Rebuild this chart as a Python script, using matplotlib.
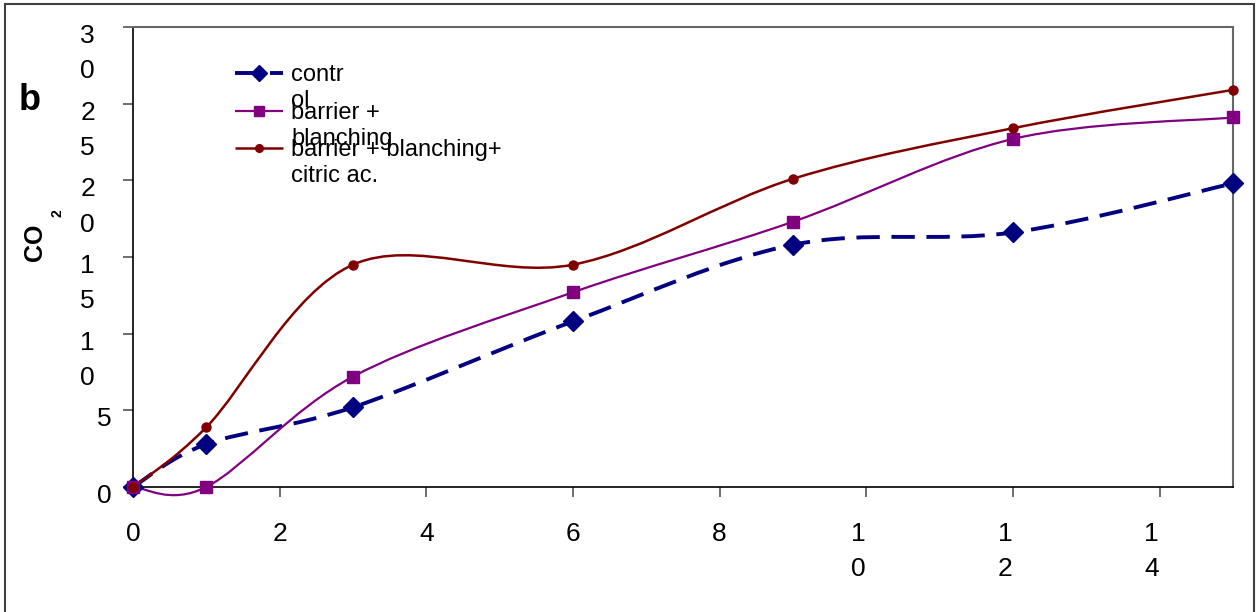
import numpy as np
import matplotlib
matplotlib.use("Agg")
import matplotlib.pyplot as plt
from matplotlib.path import Path
from matplotlib.patches import PathPatch, Rectangle
import matplotlib.transforms as mtransforms

plt.rcParams['font.family'] = ['Liberation Sans', 'DejaVu Sans']

# ---- data ----
days = [0, 1, 3, 6, 9, 12, 15]
control = [0.0, 2.8, 5.2, 10.8, 15.8, 16.6, 19.8]
barrier_blanching = [0.0, 0.0, 7.2, 12.7, 17.3, 22.7, 24.1]
barrier_blanching_citric = [0.0, 3.9, 14.5, 14.5, 20.1, 23.4, 25.9]
series_labels = ["contr\nol", "barrier +\nblanching", "barrier + blanching+\ncitric ac."]
x_ticks = [0, 2, 4, 6, 8, 10, 12, 14]
x_tick_labels = ["0", "2", "4", "6", "8", "1\n0", "1\n2", "1\n4"]
y_ticks = [0, 5, 10, 15, 20, 25, 30]
y_tick_labels = ["0", "5", "1\n0", "1\n5", "2\n0", "2\n5", "3\n0"]

W, H = 1259, 612
fig = plt.figure(figsize=(W / 100, H / 100), dpi=100)
L, R, T, B = 133, 1233, 27, 487
ax = fig.add_axes([L / W, (H - B) / H, (R - L) / W, (B - T) / H])
ax.set_xlim(0, 15)
ax.set_ylim(0, 30)


def smooth_path(x, y):
    pts = np.column_stack([x, y]).astype(float)
    n = len(pts)
    verts = [pts[0]]
    codes = [Path.MOVETO]
    for i in range(n - 1):
        p0 = pts[i - 1] if i > 0 else pts[i]
        p1 = pts[i]
        p2 = pts[i + 1]
        p3 = pts[i + 2] if i + 2 < n else pts[i + 1]
        c1 = p1 + (p2 - p0) / 6.0
        c2 = p2 - (p3 - p1) / 6.0
        verts += [c1, c2, p2]
        codes += [Path.CURVE4] * 3
    return Path(verts, codes)


styles = [
    dict(color='#000080', lw=2.8, ls=(0, (6, 3)), marker='D', ms=10),
    dict(color='#800080', lw=1.6, ls='-', marker='s', ms=8.5),
    dict(color='#800000', lw=1.8, ls='-', marker='o', ms=6.5),
]
data = [control, barrier_blanching, barrier_blanching_citric]

for ys, st in zip(data, styles):
    patch = PathPatch(smooth_path(days, ys), fill=False, edgecolor=st['color'],
                      lw=st['lw'], linestyle=st['ls'], transform=ax.transData,
                      clip_on=False, zorder=3, capstyle='butt')
    ax.add_patch(patch)
    ax.plot(days, ys, linestyle='none', marker=st['marker'], ms=st['ms'],
            color=st['color'], mec=st['color'], clip_on=False, zorder=4)

# spines / ticks
for s in ['top', 'right']:
    ax.spines[s].set_color('#666666')
    ax.spines[s].set_linewidth(1.5)
for s in ['left', 'bottom']:
    ax.spines[s].set_color('black')
    ax.spines[s].set_linewidth(1.2)
ax.set_xticks(x_ticks)
ax.set_yticks(y_ticks)
ax.tick_params(axis='both', direction='out', length=7, width=1.2, color='#555555',
               labelleft=False, labelbottom=False)

tick_fs = 19
ls_tick = 1.6
# y tick labels
ytrans = mtransforms.blended_transform_factory(ax.transAxes, ax.transData)
for v, lab in zip(y_ticks, y_tick_labels):
    two = "\n" in lab
    right_px = 95 if two else 112
    off = mtransforms.ScaledTranslation(0, 3 / 100, fig.dpi_scale_trans)
    ax.text((right_px - L) / (R - L), v, lab, transform=ytrans + off,
            ha='right', va='top', fontsize=tick_fs, linespacing=ls_tick, clip_on=False)

# x tick labels
xtrans = mtransforms.blended_transform_factory(ax.transData, ax.transAxes)
for v, lab in zip(x_ticks, x_tick_labels):
    two = "\n" in lab
    dx = -8 if two else 0
    off = mtransforms.ScaledTranslation(dx / 100, 0, fig.dpi_scale_trans)
    ax.text(v, (B - 522) / (B - T), lab, transform=xtrans + off,
            ha='center', va='top', fontsize=tick_fs, linespacing=ls_tick, clip_on=False)

# axis label CO2 and panel letter
fig.text(35 / W, 1 - 242 / H, "CO", rotation=90, ha='center', va='center',
         fontsize=18, fontweight='bold')
fig.text(58 / W, 1 - 213 / H, "2", rotation=90, ha='center', va='center',
         fontsize=10, fontweight='bold')
fig.text(30 / W, 1 - 110 / H, "b", ha='center', va='baseline',
         fontsize=26, fontweight='bold')

# legend (manual)
leg_fs = 17
hx0, hx1, hxm = 235, 283, 259
handle_y = [73, 111, 148]
for lab, st, hy in zip(series_labels, styles, handle_y):
    yy = (B - hy) / (B - T)
    ax.plot([(hx0 - L) / (R - L), (hx1 - L) / (R - L)], [yy, yy], transform=ax.transAxes,
            color=st['color'], lw=st['lw'], linestyle=st['ls'], clip_on=False, zorder=5,
            solid_capstyle='butt', dash_capstyle='butt')
    ax.plot([(hxm - L) / (R - L)], [yy], transform=ax.transAxes, linestyle='none',
            marker=st['marker'], ms=st['ms'] * 0.85, color=st['color'], clip_on=False, zorder=6)
    top_px = hy + 8 - 16.8
    ax.text((291 - L) / (R - L), (B - top_px) / (B - T), lab, transform=ax.transAxes,
            ha='left', va='top', fontsize=leg_fs, linespacing=1.25, zorder=6)

# figure border
fig.patches.append(Rectangle((5 / W, -0.1), (1254 - 5) / W, (H - 4) / H + 0.1,
                             transform=fig.transFigure, fill=False,
                             edgecolor='#404040', lw=1.5))

fig.savefig("out.png", dpi=100)
